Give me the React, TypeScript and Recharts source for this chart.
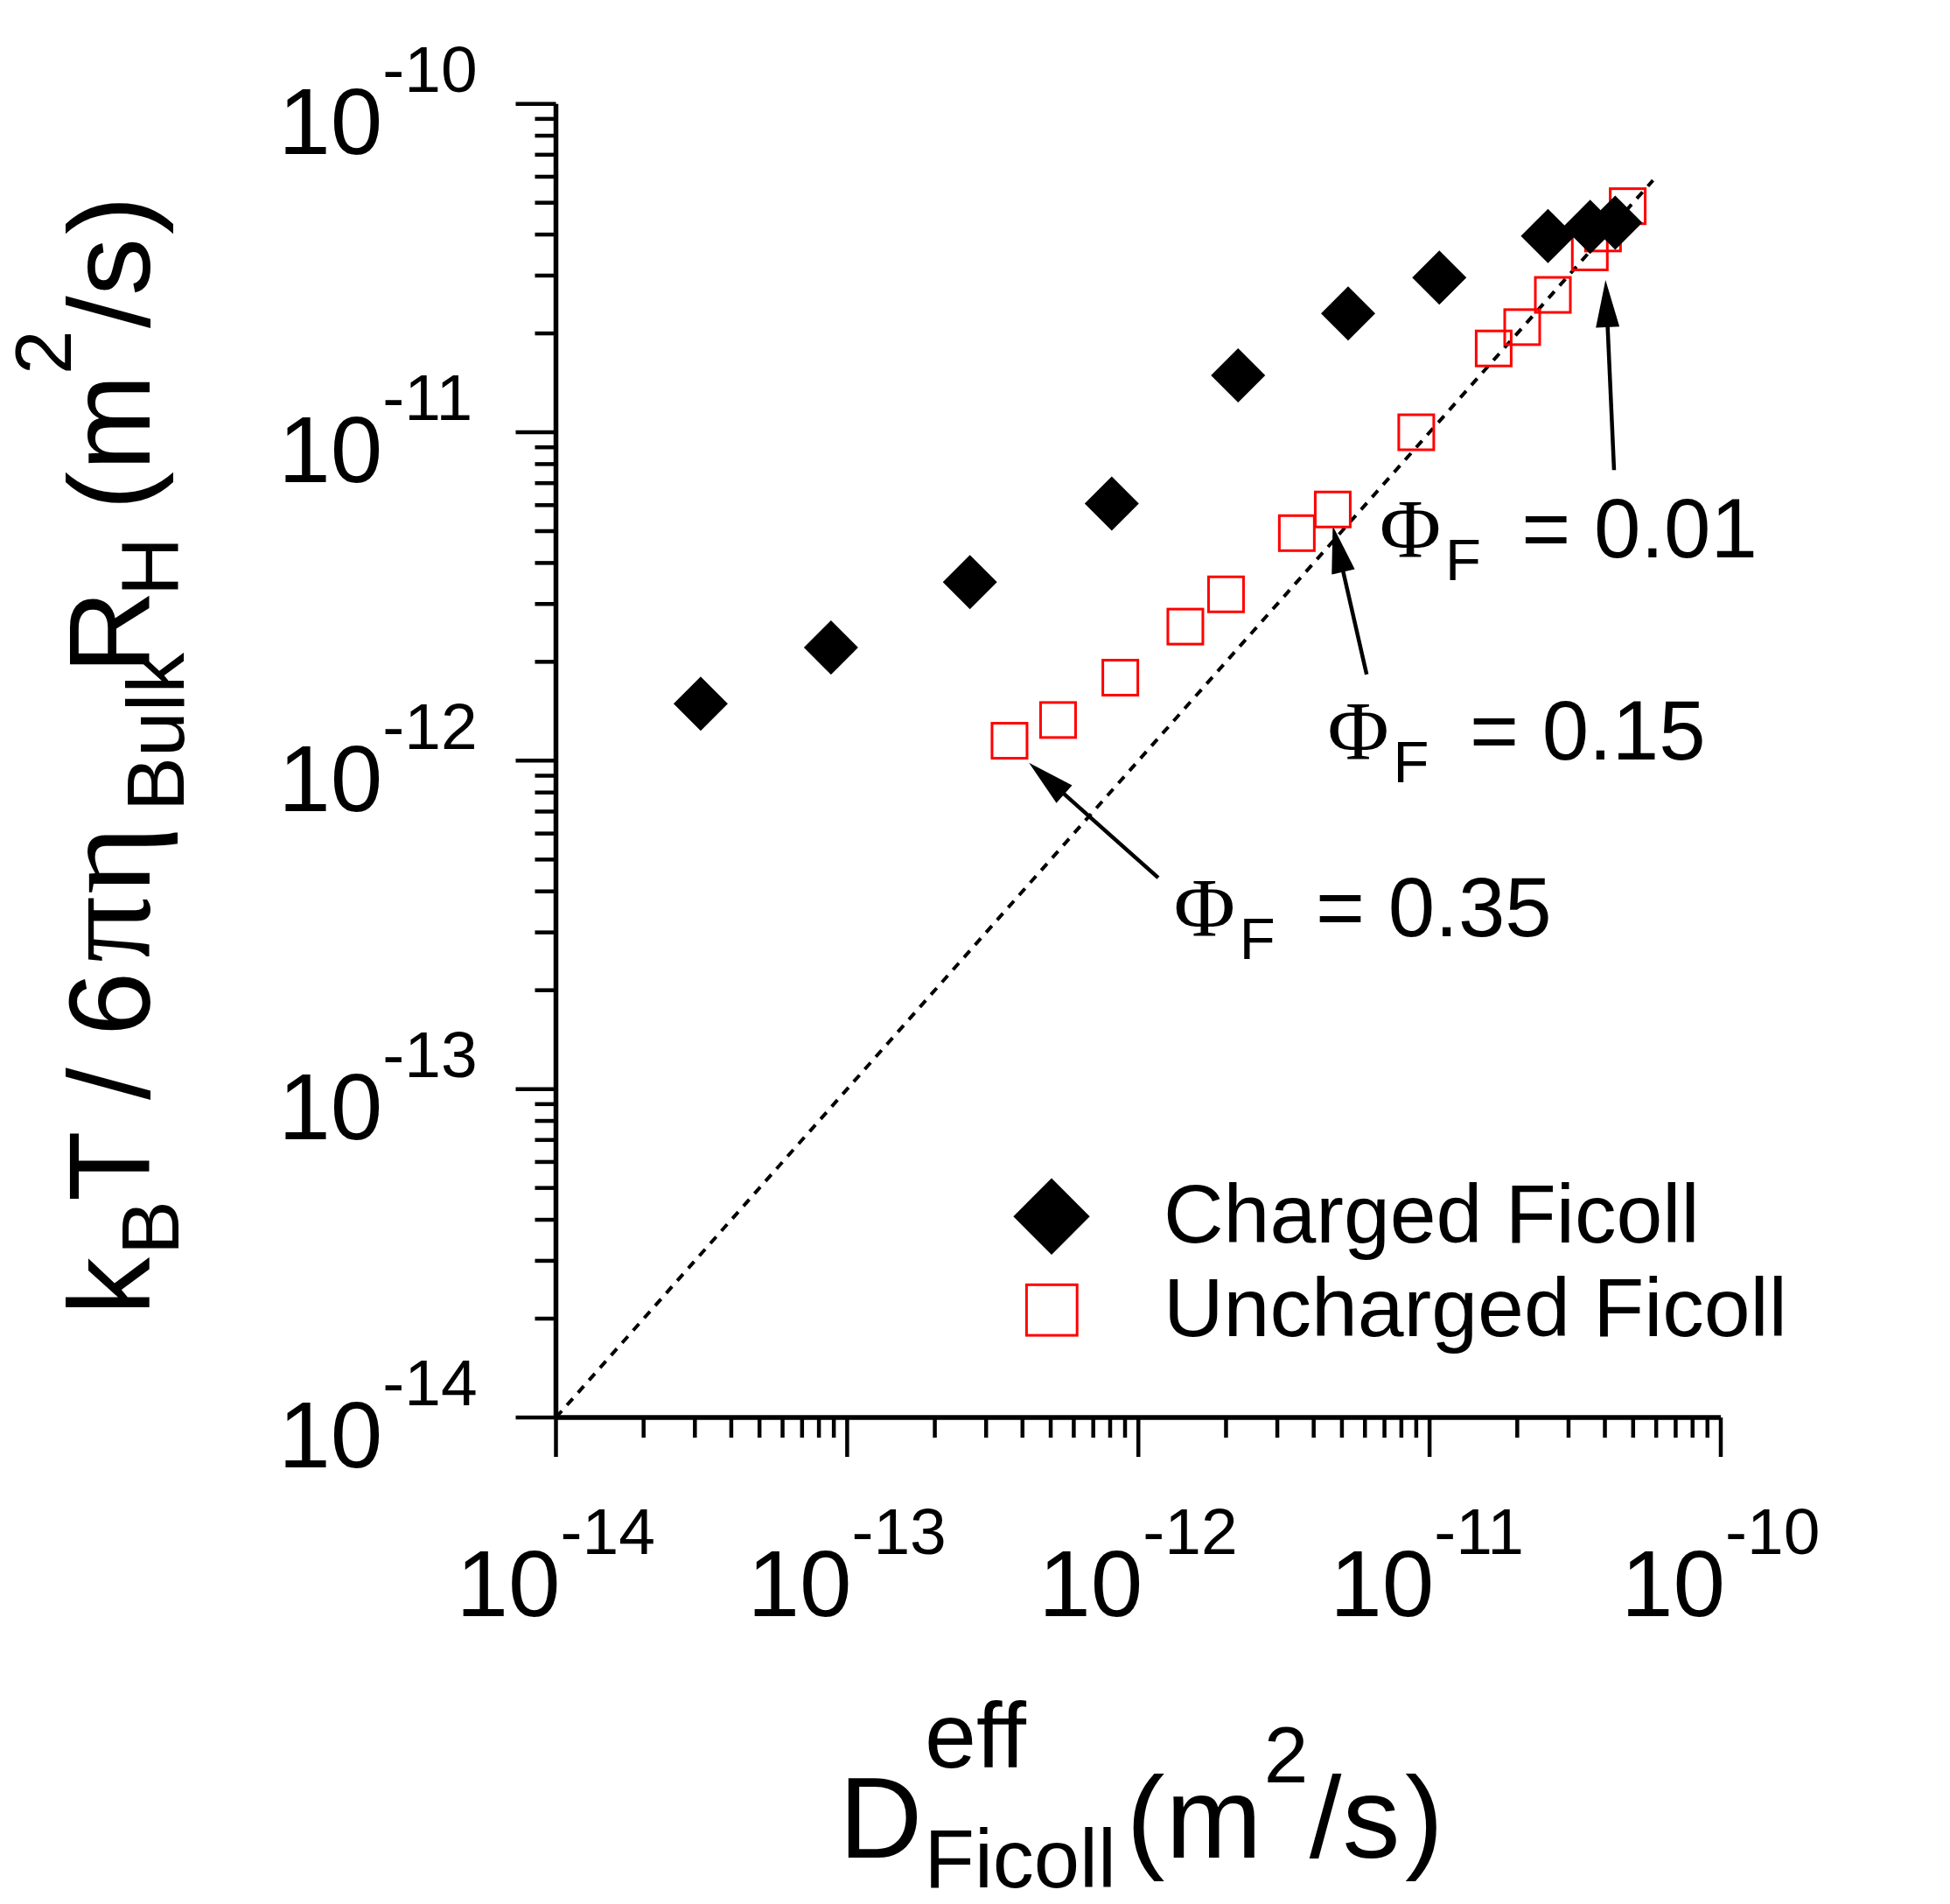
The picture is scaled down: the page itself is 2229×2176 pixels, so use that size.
import React from 'react';
import {
  ScatterChart,
  Scatter,
  XAxis,
  YAxis,
  ReferenceLine,
  ReferenceDot,
  Legend,
} from 'recharts';

const SANS = '"Liberation Sans", Arial, sans-serif';
const SERIF = '"Liberation Serif", "Times New Roman", serif';

// decade ticks (both axes share them) and their exponent labels
const majorTicks = [1e-14, 1e-13, 1e-12, 1e-11, 1e-10];
const majorLabels = ['-14', '-13', '-12', '-11', '-10'];
const minorSteps = [2, 3, 4, 5, 6, 7, 8, 9];

// D_eff (x) vs kT / 6 pi eta R_H (y), both m^2/s
const chargedD = [3.14e-14, 8.8e-14, 2.64e-13, 8.1e-13, 2.2e-12, 5.25e-12, 1.08e-11, 2.55e-11, 3.56e-11, 4.34e-11];
const chargedK = [1.49e-12, 2.21e-12, 3.5e-12, 6.07e-12, 1.49e-11, 2.3e-11, 2.96e-11, 3.96e-11, 4.22e-11, 4.35e-11];

const unchargedD = [3.61e-13, 5.3e-13, 8.67e-13, 1.45e-12, 2.0e-12, 3.5e-12, 4.65e-12, 9.0e-12, 1.66e-11, 2.08e-11, 2.65e-11, 3.55e-11, 3.94e-11, 4.79e-11];
const unchargedK = [1.15e-12, 1.33e-12, 1.79e-12, 2.56e-12, 3.21e-12, 4.93e-12, 5.82e-12, 1.0e-11, 1.8e-11, 2.09e-11, 2.62e-11, 3.53e-11, 4.03e-11, 4.88e-11];

const seriesNames = ['Charged Ficoll', 'Uncharged Ficoll'];

// y = x guide line
const guideFrom = 1e-14;
const guideTo = 5.85e-11;

// volume fraction annotations: text anchor, arrow tail and arrow tip (data coords)
const phiValues = ['0.01', '0.15', '0.35'];
const phiTextX = [6.92e-12, 4.59e-12, 1.36e-12];
const phiTextY = [4.16e-12, 1.007e-12, 2.92e-13];
const arrowTailX = [4.3e-11, 6.08e-12, 1.17e-12];
const arrowTailY = [7.67e-12, 1.83e-12, 4.4e-13];
const arrowTipX = [4.02e-11, 4.65e-12, 4.21e-13];
const arrowTipY = [2.91e-11, 5.19e-12, 9.86e-13];

const allTicks = majorTicks.flatMap((m, i) =>
  i < majorTicks.length - 1 ? [m, ...minorSteps.map((s) => s * m)] : [m]
);

const chargedData = chargedD.map((x, i) => ({ x, y: chargedK[i] }));
const unchargedData = unchargedD.map((x, i) => ({ x, y: unchargedK[i] }));

// axis title pieces, page coordinates
const xTitleParts = [
  { t: 'D', x: 959, y: 2122.7, size: 132 },
  { t: 'eff', x: 1057, y: 2020, size: 106 },
  { t: 'Ficoll', x: 1056.5, y: 2156.7, size: 94 },
  { t: '(', x: 1287.4, y: 2122.7, size: 132 },
  { t: 'm', x: 1332.6, y: 2122.7, size: 132 },
  { t: '2', x: 1444.8, y: 2036.7, size: 91 },
  { t: '/', x: 1496.8, y: 2122.7, size: 132 },
  { t: 's', x: 1534.4, y: 2122.7, size: 132 },
  { t: ')', x: 1606, y: 2122.7, size: 132 },
];

// rotated frame: x = -pageY, y = pageX
const yTitleParts = [
  { t: 'k', x: -1503, y: 170.7, size: 132 },
  { t: 'B', x: -1434, y: 204, size: 93 },
  { t: 'T', x: -1373, y: 170.7, size: 132 },
  { t: '/', x: -1257, y: 170.7, size: 132 },
  { t: '6', x: -1184, y: 170.7, size: 132 },
  { t: 'π', x: -1100, y: 170.7, size: 150, serif: true },
  { t: 'η', x: -1022, y: 170.7, size: 150, serif: true },
  { t: 'Bulk', x: -927, y: 210, size: 93 },
  { t: 'R', x: -770, y: 170.7, size: 132 },
  { t: 'H', x: -681, y: 204, size: 93 },
  { t: '(', x: -583, y: 170.7, size: 132 },
  { t: 'm', x: -538, y: 170.7, size: 132 },
  { t: '2', x: -428, y: 81, size: 91 },
  { t: '/', x: -375, y: 170.7, size: 132 },
  { t: 's', x: -338, y: 170.7, size: 132 },
  { t: ')', x: -268, y: 170.7, size: 132 },
];

const XTick = ({ x, y, payload }: any) => {
  const i = majorTicks.indexOf(payload.value);
  const major = i >= 0;
  return (
    <g>
      <line x1={x} x2={x} y1={y} y2={y + (major ? 45 : 23)} stroke="#000" strokeWidth={4.5} />
      {major && (
        <text x={x - 114} y={y + 226.7} fontFamily={SANS} fontSize={107} fill="#000">
          10<tspan fontSize={75} dy={-70.7}>{majorLabels[i]}</tspan>
        </text>
      )}
    </g>
  );
};

const YTick = ({ x, y, payload }: any) => {
  const i = majorTicks.indexOf(payload.value);
  const major = i >= 0;
  return (
    <g>
      <line x1={x} x2={x - (major ? 46 : 24)} y1={y} y2={y} stroke="#000" strokeWidth={4.5} />
      {major && (
        <text x={x - 317.2} y={y + 57.3} fontFamily={SANS} fontSize={107} fill="#000">
          10<tspan fontSize={75} dy={-71}>{majorLabels[i]}</tspan>
        </text>
      )}
    </g>
  );
};

const DiamondDot = ({ cx, cy }: any) => (
  <polygon
    points={`${cx},${cy - 31} ${cx + 31},${cy} ${cx},${cy + 31} ${cx - 31},${cy}`}
    fill="#000"
  />
);

const SquareDot = ({ cx, cy }: any) => (
  <rect x={cx - 20} y={cy - 20} width={40} height={40} fill="none" stroke="#ff0000" strokeWidth={3} />
);

const Arrow = ({ x1, y1, x2, y2 }: any) => {
  const dx = x2 - x1;
  const dy = y2 - y1;
  const len = Math.hypot(dx, dy) || 1;
  const ux = dx / len;
  const uy = dy / len;
  const head = 54;
  const half = 13.5;
  const bx = x2 - ux * head;
  const by = y2 - uy * head;
  return (
    <g>
      <line x1={x1} y1={y1} x2={bx + ux * 4} y2={by + uy * 4} stroke="#000" strokeWidth={4.5} />
      <polygon
        points={`${x2},${y2} ${bx - uy * half},${by + ux * half} ${bx + uy * half},${by - ux * half}`}
        fill="#000"
      />
    </g>
  );
};

const PhiLabel = ({ cx, cy, value }: any) => (
  <text fill="#000">
    <tspan x={cx - 4} y={cy} fontFamily={SERIF} fontSize={96}>Φ</tspan>
    <tspan x={cx + 71} y={cy + 26} fontFamily={SANS} fontSize={67}>F</tspan>
    <tspan x={cx + 158.4} y={cy} fontFamily={SANS} fontSize={96}>{`= ${value}`}</tspan>
  </text>
);

const renderXTitle = () => (
  <text fill="#000" fontFamily={SANS}>
    {xTitleParts.map((p, i) => (
      <tspan key={i} x={p.x} y={p.y} fontSize={p.size}>{p.t}</tspan>
    ))}
  </text>
);

const renderYTitle = () => (
  <text fill="#000" transform="rotate(-90)">
    {yTitleParts.map((p, i) => (
      <tspan key={i} x={p.x} y={p.y} fontSize={p.size} fontFamily={p.serif ? SERIF : SANS}>
        {p.t}
      </tspan>
    ))}
  </text>
);

const renderLegend = () => (
  <svg width={1100} height={260}>
    {seriesNames.map((name, i) => {
      const cy = i === 0 ? 90.3 : 197.2;
      const baseline = i === 0 ? 120 : 226.7;
      return (
        <g key={name}>
          {i === 0 ? (
            <polygon points={`102,${cy - 43.7} 145.7,${cy} 102,${cy + 43.7} 58.3,${cy}`} fill="#000" />
          ) : (
            <rect x={102.3 - 28.9} y={cy - 28.9} width={57.8} height={57.8} fill="none" stroke="#ff0000" strokeWidth={3} />
          )}
          <text x={230} y={baseline} fontFamily={SANS} fontSize={95} fill="#000">
            {name}
          </text>
        </g>
      );
    })}
  </svg>
);

export default function App() {
  return (
    <div style={{ position: 'absolute', left: 0, top: 0, background: '#fff' }}>
      <ScatterChart width={2229} height={2176} margin={{ top: 118.7, right: 262, bottom: 0, left: 0 }}>
        <XAxis
          type="number"
          dataKey="x"
          scale="log"
          domain={[1e-14, 1e-10]}
          allowDataOverflow
          ticks={allTicks}
          interval={0}
          tick={<XTick />}
          tickLine={false}
          tickSize={0}
          tickMargin={0}
          axisLine={{ stroke: '#000', strokeWidth: 5.5 }}
          height={556}
          label={renderXTitle}
        />
        <YAxis
          type="number"
          dataKey="y"
          scale="log"
          domain={[1e-14, 1e-10]}
          allowDataOverflow
          ticks={allTicks}
          interval={0}
          tick={<YTick />}
          tickLine={false}
          tickSize={0}
          tickMargin={0}
          axisLine={{ stroke: '#000', strokeWidth: 5.5 }}
          width={635.5}
          label={renderYTitle}
        />

        {/* y = x reference */}
        <ReferenceLine
          segment={[
            { x: guideFrom, y: guideFrom },
            { x: guideTo, y: guideTo },
          ]}
          stroke="#000"
          strokeWidth={4}
          strokeDasharray="10 9"
          ifOverflow="visible"
        />

        <Scatter
          name={seriesNames[1]}
          data={unchargedData}
          shape={<SquareDot />}
          isAnimationActive={false}
        />
        <Scatter
          name={seriesNames[0]}
          data={chargedData}
          shape={<DiamondDot />}
          isAnimationActive={false}
        />

        {phiValues.map((v, i) => (
          <ReferenceLine
            key={`arrow-${v}`}
            segment={[
              { x: arrowTailX[i], y: arrowTailY[i] },
              { x: arrowTipX[i], y: arrowTipY[i] },
            ]}
            ifOverflow="visible"
            shape={(p: any) => <Arrow {...p} />}
          />
        ))}
        {phiValues.map((v, i) => (
          <ReferenceDot
            key={`phi-${v}`}
            x={phiTextX[i]}
            y={phiTextY[i]}
            r={0}
            ifOverflow="visible"
            shape={(p: any) => <PhiLabel cx={p.cx} cy={p.cy} value={v} />}
          />
        ))}

        <Legend
          layout="horizontal"
          verticalAlign="middle"
          align="center"
          wrapperStyle={{ left: 1100, top: 1300, width: 1100, height: 260 }}
          content={renderLegend}
        />
      </ScatterChart>
    </div>
  );
}
